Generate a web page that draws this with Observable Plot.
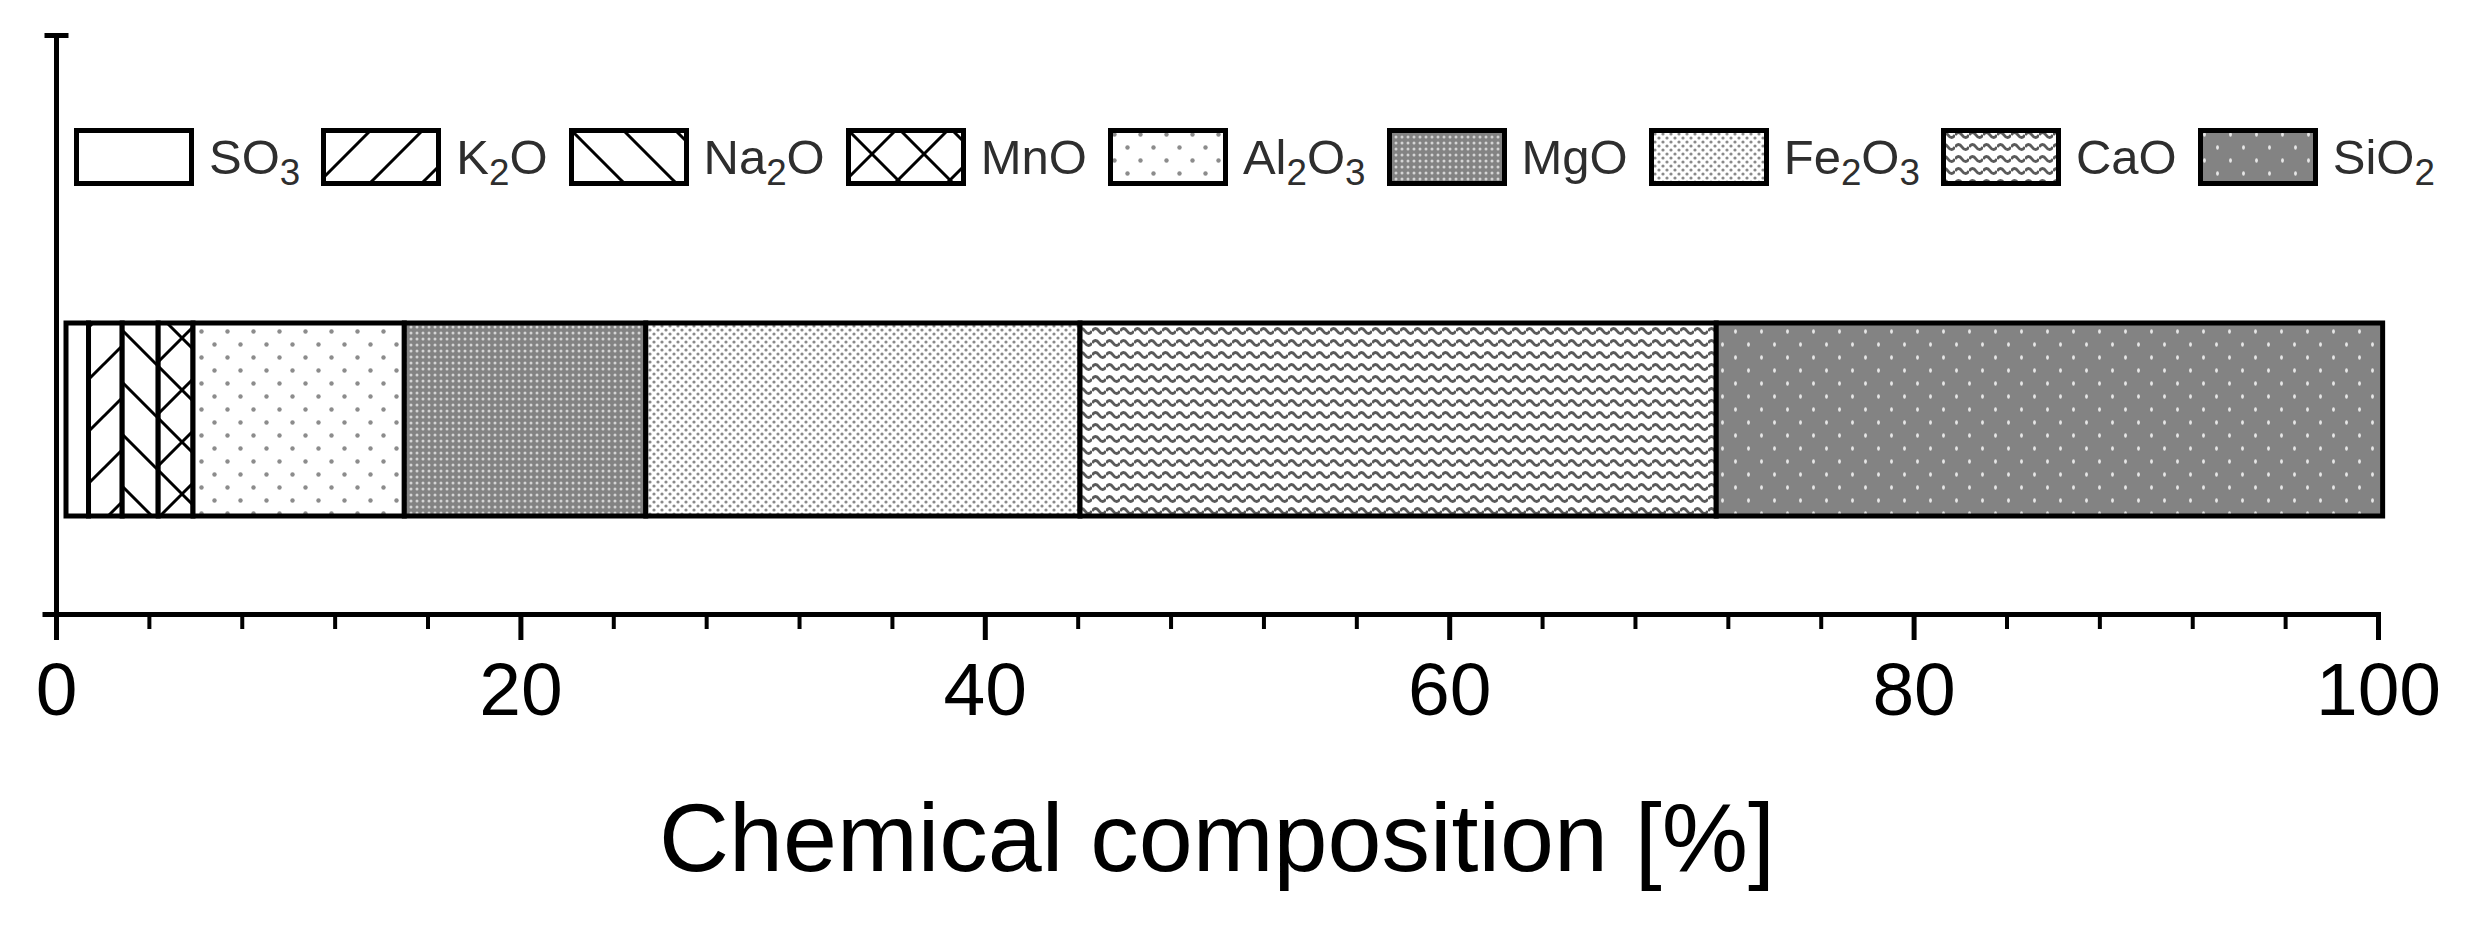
<!DOCTYPE html>
<html>
<head>
<meta charset="utf-8">
<script src="https://cdn.jsdelivr.net/npm/d3@7"></script>
<script src="https://cdn.jsdelivr.net/npm/@observablehq/plot@0.6"></script>
<style>
html, body { margin: 0; padding: 0; background: #fff; }
#wrap { position: relative; width: 2469px; height: 936px; overflow: hidden;
        font-family: "Liberation Sans", Arial, sans-serif; color: #000; }
#chart { position: absolute; left: 0; top: 0; }
#legend { position: absolute; left: 74px; top: 128px; display: flex; align-items: center;
          gap: 21px; font-size: 49px; line-height: 1; white-space: nowrap; color: #2e2e2e; }
.item { display: flex; align-items: center; }
.item svg { display: block; margin-right: 15px; }
.sub { font-size: 0.75em; position: relative; top: 0.3em; }
#title { position: absolute; left: 56px; width: 2322px; top: 789px; text-align: center;
         font-size: 97px; line-height: 1; }
</style>
</head>
<body>
<div id="wrap">
<svg width="0" height="0" style="position:absolute">
  <defs>
    <pattern id="p-K2O" patternUnits="userSpaceOnUse" width="52" height="52">
      <rect width="52" height="52" fill="#fff"/>
      <path d="M-13,13 L13,-13 M0,52 L52,0 M39,65 L65,39" stroke="#000" stroke-width="3"/>
    </pattern>
    <pattern id="p-Na2O" patternUnits="userSpaceOnUse" width="52" height="52">
      <rect width="52" height="52" fill="#fff"/>
      <path d="M-13,39 L13,65 M0,0 L52,52 M39,-13 L65,13" stroke="#000" stroke-width="3"/>
    </pattern>
    <pattern id="p-MnO" patternUnits="userSpaceOnUse" width="52" height="52">
      <rect width="52" height="52" fill="#fff"/>
      <path d="M-13,13 L13,-13 M0,52 L52,0 M39,65 L65,39 M-13,39 L13,65 M0,0 L52,52 M39,-13 L65,13" stroke="#000" stroke-width="3"/>
    </pattern>
    <pattern id="p-Al2O3" patternUnits="userSpaceOnUse" width="26" height="26">
      <rect width="26" height="26" fill="#fff"/>
      <circle cx="6.5" cy="6.5" r="2.2" fill="#8c8c8c"/>
      <circle cx="19.5" cy="19.5" r="2.2" fill="#8c8c8c"/>
    </pattern>
    <pattern id="p-MgO" patternUnits="userSpaceOnUse" width="6" height="6">
      <rect width="6" height="6" fill="#838383"/>
      <circle cx="3" cy="3" r="1.5" fill="#d4d4d4"/>
    </pattern>
    <pattern id="p-Fe2O3" patternUnits="userSpaceOnUse" width="8" height="8">
      <rect width="8" height="8" fill="#fff"/>
      <circle cx="2" cy="2" r="1.6" fill="#8a8a8a"/>
      <circle cx="6" cy="6" r="1.6" fill="#8a8a8a"/>
    </pattern>
    <pattern id="p-CaO" patternUnits="userSpaceOnUse" width="14" height="12">
      <rect width="14" height="12" fill="#fff"/>
      <path d="M0,7 Q3.5,2 7,7 T14,7" stroke="#5a5a5a" stroke-width="3" fill="none"/>
    </pattern>
    <pattern id="p-SiO2" patternUnits="userSpaceOnUse" width="26" height="26">
      <rect width="26" height="26" fill="#838383"/>
      <ellipse cx="6.5" cy="6.5" rx="1.4" ry="2.2" fill="#e6e6e6"/>
      <ellipse cx="19.5" cy="19.5" rx="1.4" ry="2.2" fill="#e6e6e6"/>
    </pattern>
  </defs>
</svg>
<div id="chart"></div>
<div id="legend"></div>
<div id="title">Chemical composition [%]</div>
</div>
<script>
// ---- data ----
const sampleLabel = "Sample";
const oxides = ["SO3", "K2O", "Na2O", "MnO", "Al2O3", "MgO", "Fe2O3", "CaO", "SiO2"];
const values = [1.4, 1.45, 1.55, 1.5, 9.1, 10.4, 18.7, 27.4, 28.7];
const majorTicks = [0, 20, 40, 60, 80, 100];
const minorTicks = [4, 8, 12, 16, 24, 28, 32, 36, 44, 48, 52, 56, 64, 68, 72, 76, 84, 88, 92, 96];

// ---- table ----
let acc = 0;
const rows = oxides.map((name, i) => {
  const r = {name, sample: sampleLabel, x1: acc, x2: acc + values[i]};
  acc += values[i];
  return r;
});

const fills = oxides.map(o => o === "SO3" ? "#ffffff" : `url(#p-${o})`);

const capSymbol = {draw(ctx) { ctx.moveTo(-12, 0); ctx.lineTo(12, 0); }};
const stubSymbol = {draw(ctx) { ctx.moveTo(-14, 0); ctx.lineTo(0, 0); }};

const chart = Plot.plot({
  width: 2469,
  height: 760,
  marginLeft: 56,
  marginRight: 91,
  marginTop: 35,
  marginBottom: 146,
  style: {background: "transparent", color: "#000", fontFamily: "'Liberation Sans', Arial, sans-serif", overflow: "visible"},
  x: {domain: [0, 100]},
  y: {type: "band", domain: [sampleLabel], paddingInner: 0, paddingOuter: 1, align: 0.746, axis: null},
  color: {type: "ordinal", domain: oxides, range: fills},
  marks: [
    Plot.barX(rows.slice(1), {x1: "x1", x2: "x2", y: "sample", fill: "name", stroke: "#000", strokeWidth: 5}),
    Plot.barX(rows.slice(0, 1), {x1: "x1", x2: "x2", y: "sample", fill: "name", stroke: "#000", strokeWidth: 5, insetLeft: 10}),
    Plot.ruleX([0], {stroke: "#000", strokeWidth: 5}),
    Plot.frame({anchor: "bottom", stroke: "#000", strokeWidth: 5}),
    Plot.axisX(majorTicks, {tickSize: 26, tickPadding: 21, fontSize: 75, strokeWidth: 5, label: null}),
    Plot.axisX(minorTicks, {tickSize: 15, strokeWidth: 4, tickFormat: () => "", label: null}),
    Plot.dot([0], {x: d => d, frameAnchor: "top", symbol: capSymbol, fill: "none", stroke: "#000", strokeWidth: 5}),
    Plot.dot([0], {x: d => d, frameAnchor: "bottom", symbol: stubSymbol, fill: "none", stroke: "#000", strokeWidth: 5})
  ]
});
document.getElementById("chart").appendChild(chart);

// ---- legend ----
const color = chart.scale("color");
const legend = d3.select("#legend");
oxides.forEach((o, i) => {
  const item = legend.append("div").attr("class", "item");
  const sw = item.append("svg").attr("width", 120).attr("height", 58);
  sw.append("rect")
    .attr("x", 2.5).attr("y", 2.5).attr("width", 115).attr("height", 53)
    .attr("fill", color.range[color.domain.indexOf(o)])
    .attr("stroke", "#000").attr("stroke-width", 5);
  item.append("span").html(o.replace(/(\d+)/g, '<span class="sub">$1</span>'));
});
</script>
</body>
</html>
